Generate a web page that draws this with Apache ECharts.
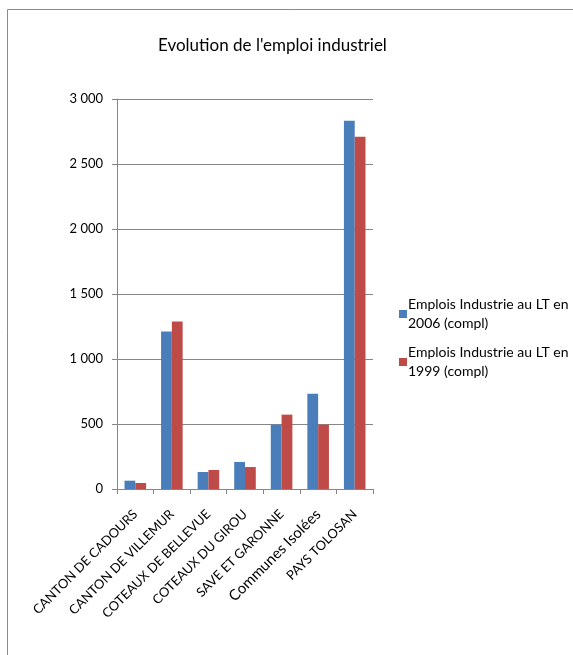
<!DOCTYPE html>
<html>
<head>
<meta charset="utf-8">
<style>
  html, body { margin: 0; padding: 0; background: #fff; }
  #chart { width: 573px; height: 655px; }
</style>
<script src="https://cdn.jsdelivr.net/npm/echarts@6/dist/echarts.min.js"></script>
</head>
<body>
<div id="chart"></div>
<script>
// Territories (x axis)
const categories = [
  'CANTON DE CADOURS',
  'CANTON DE VILLEMUR',
  'COTEAUX DE BELLEVUE',
  'COTEAUX DU GIROU',
  'SAVE ET GARONNE',
  'Communes Isolées',
  'PAYS TOLOSAN'
];

// Industrial jobs at place of work
const emplois2006 = [64, 1212, 131, 208, 495, 733, 2833];
const emplois1999 = [46, 1289, 146, 169, 572, 495, 2710];

const seriesNames = [
  'Emplois Industrie au LT en\n2006 (compl)',
  'Emplois Industrie au LT en\n1999 (compl)'
];

const yTicks = [0, 500, 1000, 1500, 2000, 2500, 3000];

const labelFont = 'Lato, "Open Sans", sans-serif';

function fmtThousands(v) {
  return String(v).replace(/\B(?=(\d{3})+(?!\d))/g, ' ');
}

// Mixed-case names get a slightly larger size so they read as big as the capitals
function fmtCategory(v) {
  return v === v.toUpperCase() ? '{uc|' + v + '}' : '{lc|' + v + '}';
}

const chart = echarts.init(document.getElementById('chart'), null, { renderer: 'canvas' });

chart.setOption({
  backgroundColor: '#ffffff',
  animation: false,
  title: {
    text: "Evolution de l'emploi industriel",
    left: 153,
    top: 32,
    textStyle: { fontFamily: labelFont, fontSize: 17, fontWeight: 'normal', color: '#000' }
  },
  graphic: [{
    type: 'rect',
    shape: { x: 7.5, y: 9.5, width: 600, height: 700 },
    style: { fill: 'none', stroke: '#8a8a8a', lineWidth: 1 },
    silent: true
  }],
  legend: {
    orient: 'vertical',
    left: 394,
    top: 290,
    itemWidth: 8,
    itemHeight: 8,
    itemGap: 10,
    icon: 'rect',
    textStyle: { fontFamily: labelFont, fontSize: 14, color: '#000', lineHeight: 19, padding: [0, 0, 0, -4] },
    data: seriesNames
  },
  grid: {
    left: 117,
    right: 200,
    top: 99,
    bottom: 166,
    containLabel: false
  },
  xAxis: {
    type: 'category',
    data: categories,
    axisLine: { lineStyle: { color: '#868686' } },
    axisTick: { show: true, length: 5, alignWithLabel: false, lineStyle: { color: '#868686' } },
    axisLabel: {
      rotate: 45,
      interval: 0,
      margin: 23,
      fontFamily: labelFont,
      fontSize: 13,
      color: '#000',
      formatter: fmtCategory,
      rich: {
        uc: { fontFamily: labelFont, fontSize: 13, color: '#000' },
        lc: { fontFamily: labelFont, fontSize: 15, color: '#000' }
      }
    }
  },
  yAxis: {
    type: 'value',
    min: 0,
    max: 3000,
    interval: 500,
    axisLine: { show: true, lineStyle: { color: '#868686' } },
    axisTick: { show: true, length: 5, lineStyle: { color: '#868686' } },
    splitLine: { show: true, lineStyle: { color: '#868686', width: 1 } },
    axisLabel: {
      margin: 14,
      fontFamily: labelFont,
      fontSize: 13,
      color: '#000',
      formatter: v => yTicks.includes(v) ? fmtThousands(v) : ''
    }
  },
  series: [
    {
      name: seriesNames[0],
      type: 'bar',
      data: emplois2006,
      barGap: '0%',
      barCategoryGap: '41%',
      itemStyle: { color: '#4a7ebb' }
    },
    {
      name: seriesNames[1],
      type: 'bar',
      data: emplois1999,
      barGap: '0%',
      barCategoryGap: '41%',
      itemStyle: { color: '#be4b48' }
    }
  ]
});
</script>
</body>
</html>
